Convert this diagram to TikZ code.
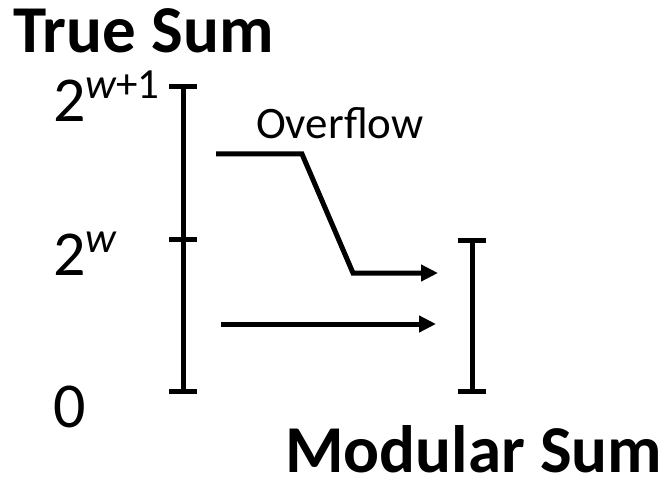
\documentclass[tikz,border=0pt]{standalone}
\usepackage{fontspec}
\setmainfont{Carlito}
\usetikzlibrary{arrows.meta}
\tikzset{
  bar/.style={line width=5pt},
  flow/.style={line width=5pt, -{Triangle[length=17pt,width=16pt]}},
  title/.style={anchor=base west, inner sep=0pt, text depth=0pt, font=\fontsize{67}{67}\selectfont\bfseries},
  val/.style={anchor=base west, inner sep=0pt, font=\fontsize{64}{64}\selectfont},
  lbl/.style={anchor=base west, inner sep=0pt, font=\fontsize{45}{45}\selectfont}
}
\newcommand{\supr}[1]{\raisebox{23pt}{\fontsize{43}{43}\selectfont #1}}
\begin{document}
\begin{tikzpicture}[x=1pt,y=-1pt]
\useasboundingbox (0,0) rectangle (671,481);
% texts
\node[title] (ts) at (13,53) {True Sum};
\node[title] (ms) at (285,472) {Modular Sum};
\node[val] (v2) at (53,122) {2\supr{\itshape w\upshape+1}};
\node[val] (v1) at (53,275) {2\supr{\itshape w}};
\node[val] (v0) at (53,427) {0};
\node[lbl] (of) at (256,139) {Overflow};
% left bar
\coordinate (lt) at (183,87);
\coordinate (lm) at (183,239);
\coordinate (lb) at (183,391);
\draw[bar] (lt) -- (lb);
\foreach \c in {lt,lm,lb} \draw[bar] ([xshift=-14pt]\c) -- ([xshift=14pt]\c);
% right bar
\coordinate (rt) at (472,240);
\coordinate (rb) at (472,391);
\draw[bar] (rt) -- (rb);
\foreach \c in {rt,rb} \draw[bar] ([xshift=-14pt]\c) -- ([xshift=14pt]\c);
% overflow path
\coordinate (o1) at (216,154);
\coordinate (o2) at (302,154);
\coordinate (o3) at (353,273);
\coordinate (o4) at (438,273);
\draw[flow] (o1) -- (o2) -- (o3) -- (o4);
% normal path
\coordinate (n1) at (221,324);
\coordinate (n2) at (436,324);
\draw[flow] (n1) -- (n2);
\end{tikzpicture}
\end{document}
